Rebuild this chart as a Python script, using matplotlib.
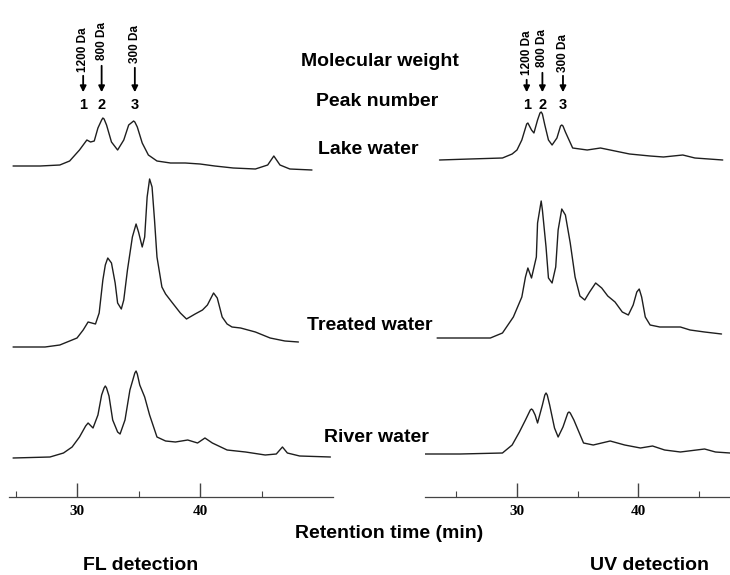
import matplotlib
matplotlib.use('Agg')
import matplotlib.pyplot as plt

# retention time (min) and signal (arbitrary units above each trace's baseline)
fl_lake_t = [24.8, 27.0, 28.6, 29.4, 30.2, 30.8, 31.1, 31.4, 31.7, 32.0, 32.1, 32.2, 32.4, 32.8, 33.3, 33.8,
             34.2, 34.5, 34.6, 34.7, 34.9, 35.3, 35.8, 36.5, 37.6, 38.8, 40.0, 41.2, 42.7, 44.5, 45.5, 46.0,
             46.5, 47.3, 49.1]
fl_lake_i = [0, 0, 1, 5, 16, 26, 24, 25, 38, 46, 48, 47, 41, 24, 16, 26,
             41, 44, 45, 44, 39, 23, 11, 5, 3, 3, 2, 0, -2, -3, 1, 10,
             1, -3, -4]

fl_treated_t = [24.8, 27.4, 28.6, 30.0, 30.5, 30.9, 31.5, 31.8, 32.1, 32.3, 32.5, 32.8, 33.1, 33.3, 33.6, 33.8,
                34.1, 34.5, 34.8, 35.0, 35.3, 35.5, 35.7, 35.9, 36.1, 36.3, 36.5, 36.9, 37.2, 37.7, 38.4, 38.9,
                39.6, 40.2, 40.6, 41.1, 41.4, 41.8, 42.2, 42.6, 43.3, 44.5, 45.7, 46.9, 48.0]
fl_treated_i = [0, 0, 2, 9, 17, 25, 23, 34, 67, 82, 89, 84, 64, 44, 38, 47,
                77, 110, 123, 115, 100, 110, 150, 168, 160, 127, 90, 60, 53, 45, 34, 28,
                33, 37, 42, 54, 49, 30, 23, 20, 19, 15, 9, 6, 5]

fl_river_t = [24.8, 27.8, 28.9, 29.6, 30.2, 30.7, 30.9, 31.3, 31.7, 32.0, 32.2, 32.3, 32.4, 32.6, 32.9, 33.3,
              33.5, 33.9, 34.3, 34.7, 34.8, 34.9, 35.1, 35.5, 35.9, 36.5, 37.2, 38.0, 39.0, 39.8, 40.4, 41.0,
              42.2, 43.7, 45.3, 46.2, 46.7, 47.1, 48.1, 50.6]
fl_river_i = [0, 1, 5, 11, 21, 32, 35, 30, 43, 63, 70, 72, 70, 62, 38, 26,
              24, 38, 68, 85, 87, 84, 73, 61, 43, 21, 17, 16, 18, 15, 20, 15,
              8, 6, 3, 4, 11, 5, 2, 1]

uv_lake_t = [23.6, 26.1, 28.8, 29.6, 30.0, 30.4, 30.8, 30.9, 31.2, 31.4, 31.7, 31.9, 32.0, 32.1, 32.3, 32.6,
             32.9, 33.3, 33.6, 33.7, 33.8, 34.0, 34.6, 35.8, 36.9, 38.1, 39.3, 41.0, 42.1, 43.7, 44.7, 47.0]
uv_lake_i = [0, 1, 2, 6, 10, 20, 36, 37, 30, 27, 40, 47, 48, 46, 35, 20,
             15, 22, 34, 35, 34, 28, 12, 10, 12, 9, 6, 4, 3, 5, 2, 0]

uv_treated_t = [23.4, 26.1, 27.8, 28.8, 29.7, 30.4, 30.7, 30.9, 31.2, 31.6, 31.7, 32.0, 32.1, 32.4, 32.6, 32.9,
                33.2, 33.4, 33.7, 34.0, 34.4, 34.8, 35.2, 35.6, 36.0, 36.5, 37.0, 37.5, 38.1, 38.7, 39.2, 39.6,
                39.9, 40.1, 40.3, 40.6, 41.0, 41.8, 42.6, 43.5, 44.3, 45.5, 46.9]
uv_treated_i = [0, 0, 0, 5, 21, 41, 61, 70, 60, 81, 115, 137, 128, 91, 60, 55,
                71, 108, 129, 123, 95, 61, 42, 38, 46, 55, 50, 42, 36, 26, 23, 33,
                46, 49, 41, 21, 13, 11, 11, 11, 8, 6, 4]

uv_river_t = [22.1, 25.3, 28.8, 29.6, 30.2, 30.7, 31.1, 31.2, 31.3, 31.5, 31.7, 32.1, 32.3, 32.4, 32.5, 32.7,
              33.1, 33.4, 33.8, 34.2, 34.3, 34.4, 34.7, 35.5, 36.3, 37.7, 38.9, 40.2, 41.2, 42.2, 43.5, 45.5,
              46.4, 47.6]
uv_river_i = [0, 0, 1, 9, 22, 34, 44, 45, 44, 39, 31, 49, 59, 61, 59, 49,
              26, 17, 27, 41, 42, 41, 34, 11, 9, 13, 9, 6, 8, 4, 2, 5,
              2, 1]

samples = ['Lake water', 'Treated water', 'River water']
mw_labels = ['1200 Da', '800 Da', '300 Da']
peak_numbers = ['1', '2', '3']
fl_peak_times = [30.5, 32.0, 34.7]
uv_peak_times = [30.8, 32.1, 33.8]

W, H = 730, 575
fig = plt.figure(figsize=(W / 100, H / 100), dpi=100)

def fx(px):
    return px / W

def fy(py):
    return 1 - py / H

AXIS_Y = 497  # pixel row of the time axes

def panel(x0, x1, xlim, traces, offsets, peak_times, lab_bottoms, arrow_tops):
    ax = fig.add_axes([fx(x0), fy(AXIS_Y), fx(x1 - x0), 1 - fy(AXIS_Y)])
    ax.set_xlim(*xlim)
    ax.set_ylim(0, AXIS_Y)
    for (t, i), off in zip(traces, offsets):
        ax.plot(t, [v + off for v in i], color='#1e1e1e', lw=1.0,
                solid_joinstyle='round', solid_capstyle='round')
    for s in ['top', 'left', 'right']:
        ax.spines[s].set_visible(False)
    ax.spines['bottom'].set_color('#444444')
    ax.spines['bottom'].set_linewidth(0.9)
    ax.set_yticks([])
    ax.set_xticks([30, 40])
    ax.set_xticks([25, 35, 45], minor=True)
    ax.set_xticklabels(['30', '40'], fontfamily='Liberation Serif', fontweight='bold', fontsize=11)
    ax.tick_params(axis='x', which='major', direction='in', length=10, width=1.0, color='#444444', pad=6)
    ax.tick_params(axis='x', which='minor', direction='in', length=4, width=0.8, color='#444444')
    ax.patch.set_alpha(0)
    for pt, mw, num, lb, at in zip(peak_times, mw_labels, peak_numbers, lab_bottoms, arrow_tops):
        ax.text(pt, AXIS_Y - lb, mw, rotation=90, ha='center', va='bottom',
                fontsize=8.5, fontweight='bold', family='Liberation Sans')
        ax.annotate('', xy=(pt, AXIS_Y - 95), xytext=(pt, AXIS_Y - at),
                    arrowprops=dict(arrowstyle='-|>', color='black', lw=1.3, mutation_scale=9))
        ax.text(pt, AXIS_Y - 105, num, ha='center', va='center',
                fontsize=10.5, fontweight='bold', family='Liberation Sans')
    return ax

panel(9, 333, (24.47, 50.81),
      [(fl_lake_t, fl_lake_i), (fl_treated_t, fl_treated_i), (fl_river_t, fl_river_i)],
      [331, 150, 39], fl_peak_times, [72, 60, 63], [73, 63, 65])
panel(425, 730, (22.40, 47.60),
      [(uv_lake_t, uv_lake_i), (uv_treated_t, uv_treated_i), (uv_river_t, uv_river_i)],
      [337, 159, 43], uv_peak_times, [75, 67, 72], [77, 70, 73])

bold = dict(fontweight='bold', family='Liberation Sans', ha='center', va='center')
fig.text(fx(380), fy(62), 'Molecular weight', fontsize=14, **bold)
fig.text(fx(377), fy(102), 'Peak number', fontsize=14, **bold)
fig.text(fx(368), fy(150), samples[0], fontsize=14, **bold)
fig.text(fx(370), fy(326), samples[1], fontsize=14, **bold)
fig.text(fx(376), fy(437), samples[2], fontsize=14, **bold)
fig.text(fx(389), fy(534), 'Retention time (min)', fontsize=14, **bold)
fig.text(fx(141), fy(565), 'FL detection', fontsize=14, **bold)
fig.text(fx(650), fy(565), 'UV detection', fontsize=14, **bold)

fig.savefig('out.png', dpi=100)
